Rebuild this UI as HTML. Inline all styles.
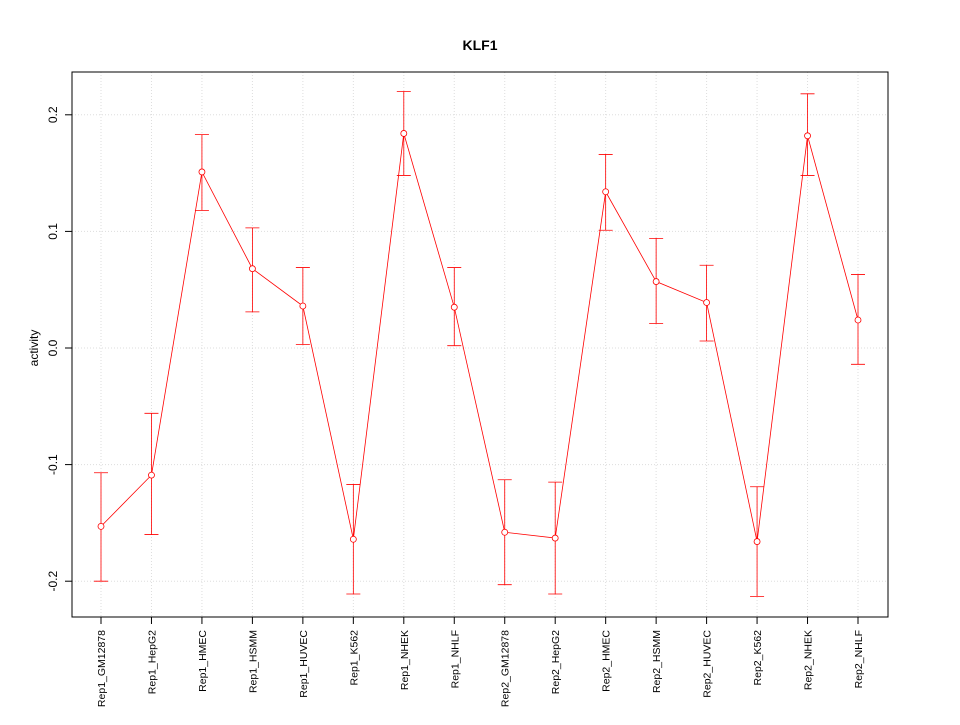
<!DOCTYPE html>
<html><head><meta charset="utf-8"><style>
body{margin:0;background:#fff}
text{font-family:"Liberation Sans",sans-serif}
</style></head><body>
<svg id="chart" width="960" height="720" xmlns="http://www.w3.org/2000/svg">
<text x="480" y="50" text-anchor="middle" font-size="14" font-weight="bold">KLF1</text>
<text x="0" y="0" transform="translate(38,348) rotate(-90)" text-anchor="middle" font-size="12">activity</text>
<g id="grid"></g>
<g id="yaxis"></g>
<g id="xaxis"></g>
<g id="series"></g>
<rect x="72" y="72" width="816" height="545" fill="none" stroke="#000"/>
</svg>
<script>
const categories=["Rep1_GM12878","Rep1_HepG2","Rep1_HMEC","Rep1_HSMM","Rep1_HUVEC","Rep1_K562","Rep1_NHEK","Rep1_NHLF","Rep2_GM12878","Rep2_HepG2","Rep2_HMEC","Rep2_HSMM","Rep2_HUVEC","Rep2_K562","Rep2_NHEK","Rep2_NHLF"];
const values=[-0.153,-0.109,0.151,0.068,0.036,-0.164,0.184,0.035,-0.158,-0.163,0.134,0.057,0.039,-0.166,0.182,0.024];
const upper=[-0.107,-0.056,0.183,0.103,0.069,-0.117,0.220,0.069,-0.113,-0.115,0.166,0.094,0.071,-0.119,0.218,0.063];
const lower=[-0.200,-0.160,0.118,0.031,0.003,-0.211,0.148,0.002,-0.203,-0.211,0.101,0.021,0.006,-0.213,0.148,-0.014];
const yTicks=[-0.2,-0.1,0.0,0.1,0.2];
const yTickLabels=["-0.2","-0.1","0.0","0.1","0.2"];
const NS="http://www.w3.org/2000/svg";
function X(i){return 101+i*(858-101)/(categories.length-1);}
function Y(v){return 348-v*1166;}
function mk(parent,tag,attrs){const e=document.createElementNS(NS,tag);for(const k in attrs)e.setAttribute(k,attrs[k]);parent.appendChild(e);return e;}
const grid=document.getElementById('grid'),ya=document.getElementById('yaxis'),xa=document.getElementById('xaxis'),se=document.getElementById('series');
yTicks.forEach((t,i)=>{
 const g=mk(grid,'line',{x1:72,x2:888,y1:Y(t),y2:Y(t),stroke:'#ddd','stroke-dasharray':'1,2'});
 
 
 const tk=mk(ya,'line',{x1:65,x2:72,y1:Y(t),y2:Y(t),stroke:'#000'});
 
 
 const tx=mk(ya,'text',{transform:`translate(57,${Y(t)}) rotate(-90)`,'text-anchor':'middle','font-size':12});
 tx.textContent=yTickLabels[i];
 
 
});
categories.forEach((c,i)=>{
 const x=X(i);
 const g=mk(grid,'line',{x1:x,x2:x,y1:72,y2:617,stroke:'#ddd','stroke-dasharray':'1,2'});
 
 
 const tk=mk(xa,'line',{x1:x,x2:x,y1:617,y2:624,stroke:'#000'});
 
 
 const tx=mk(xa,'text',{transform:`translate(${x+4},630) rotate(-90)`,'text-anchor':'end','font-size':10.5});
 tx.textContent=c;
 
 
});
const pts=values.map((v,i)=>X(i)+','+Y(v)).join(' ');
const pl=mk(se,'polyline',{points:pts,fill:'none',stroke:'#f00','stroke-width':0.8});


values.forEach((v,i)=>{
 const x=X(i);
 const eb=mk(se,'path',{d:`M${x},${Y(upper[i])}V${Y(lower[i])}M${x-7},${Y(upper[i])}H${x+7}M${x-7},${Y(lower[i])}H${x+7}`,stroke:'#f00',fill:'none','stroke-width':0.8});
 
 
 const p=mk(se,'circle',{cx:x,cy:Y(v),r:3,fill:'#fff',stroke:'#f00','stroke-width':0.8});
 
 
});
</script>
</body></html>
